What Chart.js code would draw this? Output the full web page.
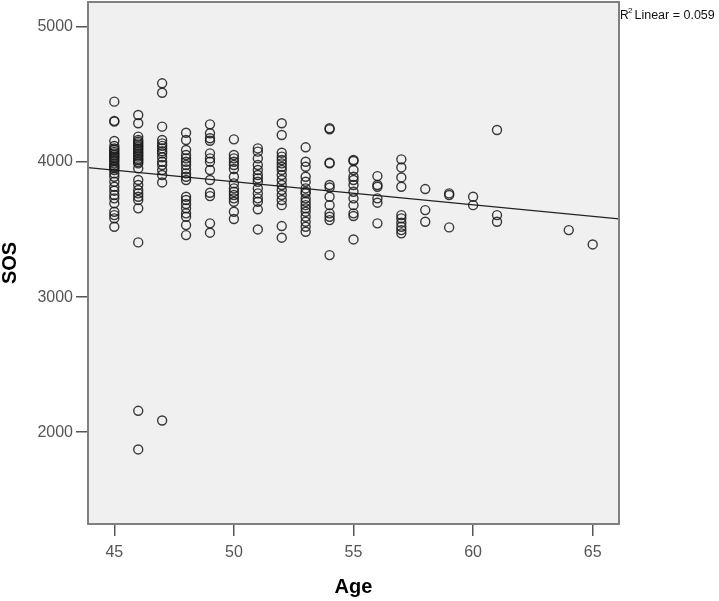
<!DOCTYPE html>
<html>
<head>
<meta charset="utf-8">
<script src="https://cdn.jsdelivr.net/npm/chart.js@4.4.1/dist/chart.umd.min.js"></script>
<style>
  body { margin: 0; background: #fff; }
  #wrap { width: 719px; height: 601px; position: relative; }
</style>
</head>
<body>
<div id="wrap"><canvas id="sosChart" width="719" height="601"></canvas></div>
<script>
// ages and the SOS readings seen at each age
const ages = [45, 46, 47, 48, 49, 50, 51, 52, 53, 54, 55, 56, 57, 58, 59, 60, 61, 64, 65];
const sosByAge = [
  [4447, 4299, 4305, 4156, 4119, 4100, 4089, 4075, 4064, 4052, 4040, 4030, 4015, 4005, 3990, 3975, 3965, 3955, 3941, 3916, 3891, 3854, 3817, 3788, 3756, 3731, 3694, 3632, 3607, 3583, 3521],
  [4348, 4287, 4188, 4163, 4150, 4138, 4125, 4114, 4100, 4089, 4075, 4064, 4050, 4040, 4025, 4015, 4000, 3990, 3953, 3867, 3830, 3793, 3768, 3743, 3719, 3657, 3405, 2158, 1872],
  [4583, 4513, 4262, 4163, 4138, 4120, 4101, 4080, 4064, 4035, 4002, 3978, 3941, 3904, 3849, 2086],
  [4217, 4163, 4089, 4052, 4027, 4002, 3978, 3946, 3916, 3891, 3867, 3743, 3719, 3689, 3657, 3620, 3595, 3533, 3459],
  [4279, 4213, 4176, 4158, 4064, 4027, 4002, 3941, 3867, 3773, 3748, 3546, 3477],
  [4168, 4052, 4027, 4002, 3978, 3948, 3891, 3842, 3805, 3780, 3756, 3731, 3706, 3632, 3578],
  [4101, 4077, 4027, 3978, 3941, 3904, 3879, 3854, 3805, 3768, 3731, 3706, 3650, 3501],
  [4287, 4200, 4069, 4040, 4015, 3990, 3965, 3941, 3904, 3867, 3830, 3793, 3756, 3719, 3681, 3526, 3440],
  [4109, 4002, 3965, 3891, 3854, 3805, 3780, 3768, 3731, 3706, 3681, 3657, 3632, 3595, 3558, 3521, 3484],
  [4250, 4242, 3995, 3990, 3830, 3812, 3743, 3681, 3620, 3595, 3570, 3311],
  [4015, 4008, 3941, 3891, 3867, 3830, 3780, 3731, 3681, 3620, 3600, 3427],
  [3896, 3830, 3817, 3731, 3699, 3546],
  [4020, 3960, 3886, 3817, 3607, 3583, 3551, 3521, 3496, 3472],
  [3800, 3644, 3558],
  [3768, 3756, 3516],
  [3743, 3681],
  [4237, 3607, 3558],
  [3496],
  [3390]
];
const xTicks = [45, 50, 55, 60, 65];
const yTicks = [2000, 3000, 4000, 5000];
const fitLabel = "Linear = 0.059";

const xMin = 43.9, xMax = 66.1, yMin = 1320, yMax = 5185;

let points = [];
ages.forEach((a, i) => {
  sosByAge[i].forEach(v => points.push({ x: a, y: v }));
});

// least squares line through the points
let n = points.length;
let mx = points.reduce((s, p) => s + p.x, 0) / n;
let my = points.reduce((s, p) => s + p.y, 0) / n;
let sxy = 0, sxx = 0;
points.forEach(p => { sxy += (p.x - mx) * (p.y - my); sxx += (p.x - mx) * (p.x - mx); });
let slope = sxy / sxx;
let icept = my - slope * mx;
let fitLine = [xMin, xMax].map(x => ({ x: x, y: icept + slope * x }));

const plotBg = {
  id: "plotBg",
  beforeDatasetsDraw(chart) {
    const { ctx, chartArea: a } = chart;
    ctx.save();
    ctx.fillStyle = "#f0f0f0";
    ctx.fillRect(a.left, a.top, a.right - a.left, a.bottom - a.top);
    ctx.restore();
  },
  afterDraw(chart) {
    const { ctx, chartArea: a } = chart;
    ctx.save();
    ctx.strokeStyle = "#808080";
    ctx.lineWidth = 2;
    ctx.strokeRect(a.left, a.top, a.right - a.left, a.bottom - a.top);
    // R² label outside the plot, top right
    ctx.fillStyle = "#111";
    ctx.textBaseline = "alphabetic";
    ctx.font = "12px Arial";
    ctx.fillText("R", a.right + 1, 19);
    ctx.font = "8px Arial";
    ctx.fillText("2", a.right + 9, 13);
    ctx.font = "12.5px Arial";
    ctx.fillText(" " + fitLabel, a.right + 12, 19);
    ctx.restore();
  }
};

new Chart(document.getElementById("sosChart"), {
  type: "scatter",
  data: {
    datasets: [
      {
        data: points,
        pointStyle: "circle",
        pointRadius: 4.5,
        pointBorderWidth: 1.4,
        pointBackgroundColor: "rgba(0,0,0,0)",
        pointBorderColor: "rgba(25,25,25,0.85)",
        pointHoverRadius: 4.5
      },
      {
        type: "line",
        data: fitLine,
        borderColor: "#222",
        borderWidth: 1.2,
        pointRadius: 0,
        fill: false
      }
    ]
  },
  options: {
    responsive: false,
    animation: false,
    layout: { autoPadding: false, padding: { left: 0, top: 2, right: 100, bottom: 0 } },
    plugins: { legend: { display: false }, tooltip: { enabled: false } },
    scales: {
      x: {
        type: "linear",
        min: xMin,
        max: xMax,
        afterBuildTicks: s => { s.ticks = xTicks.map(v => ({ value: v })); },
        afterFit: s => { s.height = 77; s.paddingLeft = 0; s.paddingRight = 0; },
        border: { display: false },
        grid: { drawOnChartArea: false, drawTicks: true, tickLength: 12, color: "#555", lineWidth: 1.5 },
        ticks: { color: "#555", autoSkip: false, maxRotation: 0, font: { family: "Arial", size: 16 }, padding: 7, callback: v => String(v) },
        title: { display: true, text: "Age", color: "#000", font: { family: "Arial", size: 20, weight: "bold", lineHeight: 1 }, padding: { top: 0, bottom: 4 } }
      },
      y: {
        type: "linear",
        min: yMin,
        max: yMax,
        afterBuildTicks: s => { s.ticks = yTicks.map(v => ({ value: v })); },
        afterFit: s => { s.width = 88; s.paddingTop = 0; s.paddingBottom = 0; },
        border: { display: false },
        grid: { drawOnChartArea: false, drawTicks: true, tickLength: 12, color: "#555", lineWidth: 1.5 },
        ticks: { color: "#555", autoSkip: false, font: { family: "Arial", size: 16 }, padding: 3, callback: v => String(v) },
        title: { display: true, text: "SOS", color: "#000", font: { family: "Arial", size: 20, weight: "bold", lineHeight: 1 }, padding: { top: 0, bottom: 0 } }
      }
    }
  },
  plugins: [plotBg]
});
</script>
</body>
</html>
